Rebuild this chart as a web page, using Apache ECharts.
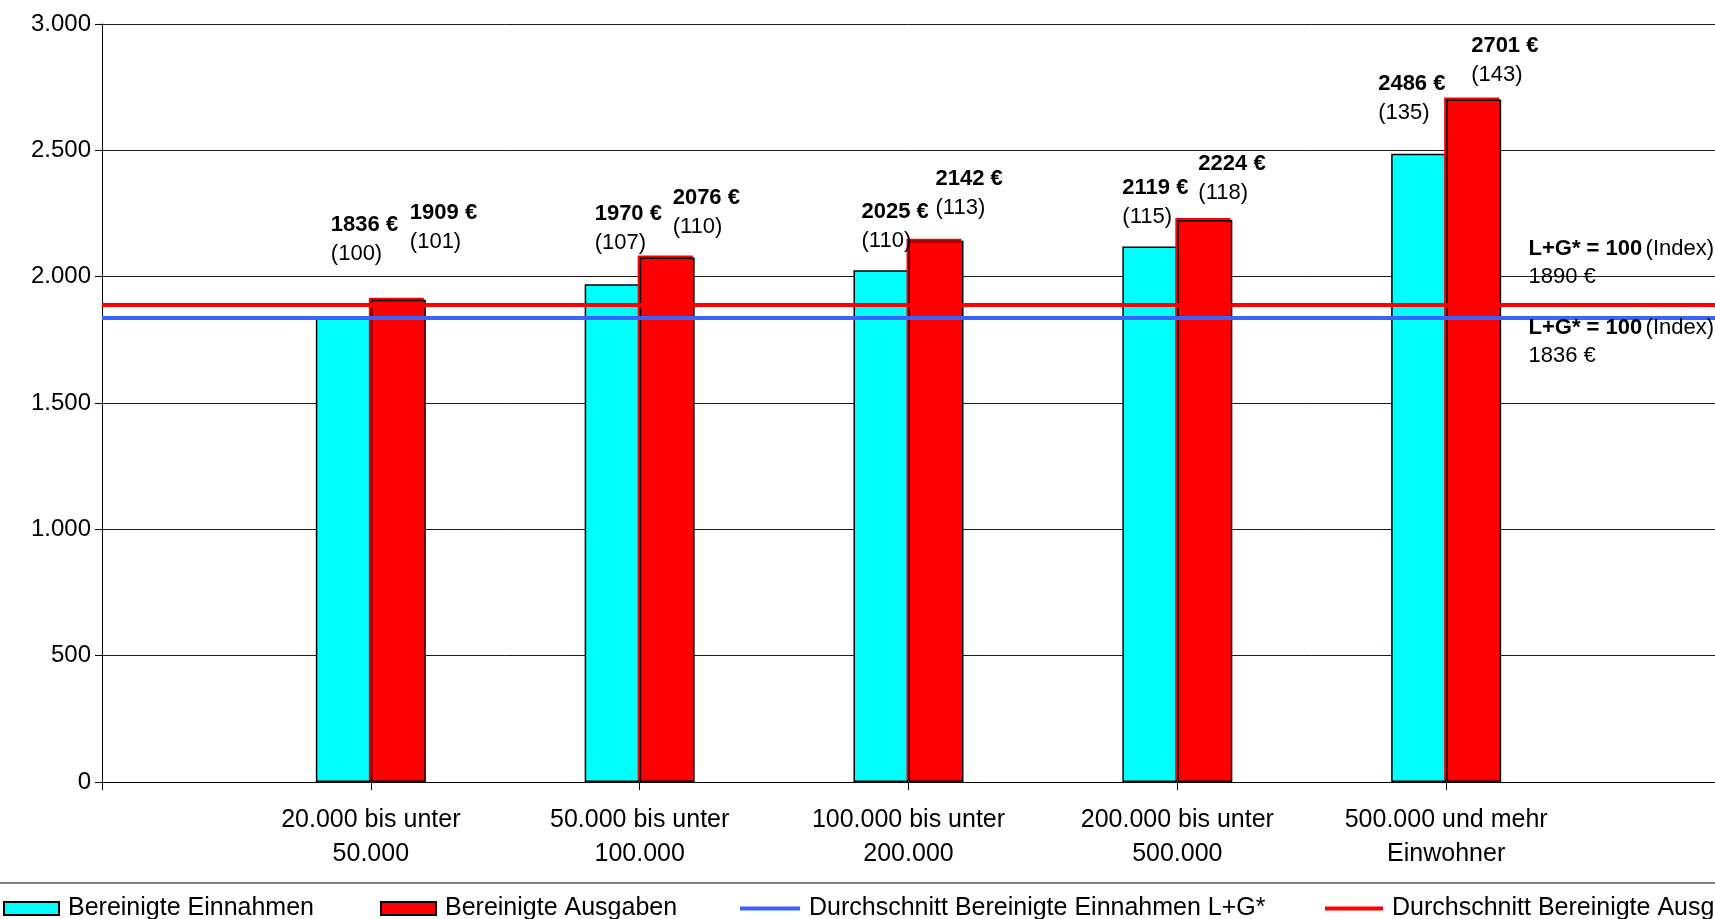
<!DOCTYPE html>
<html>
<head>
<meta charset="utf-8">
<script src="https://cdn.jsdelivr.net/npm/echarts@6/dist/echarts.min.js"></script>
<style>
  html, body { margin: 0; padding: 0; background: #ffffff; }
  #chart { width: 1715px; height: 919px; }
</style>
</head>
<body>
<div id="chart"></div>
<script>
// Größenklassen der Gemeinden
const categories = [
  '20.000 bis unter\n50.000',
  '50.000 bis unter\n100.000',
  '100.000 bis unter\n200.000',
  '200.000 bis unter\n500.000',
  '500.000 und mehr\nEinwohner'
];
// Euro je Einwohner
const einnahmen = [1836, 1970, 2025, 2119, 2486];
const ausgaben = [1909, 2076, 2142, 2224, 2701];
// Index (L+G* = 100)
const einnahmenIndex = [100, 107, 110, 115, 135];
const ausgabenIndex = [101, 110, 113, 118, 143];
// Durchschnitt L+G*
const avgEinnahmen = 1836;
const avgAusgaben = 1890;
// y-Achse
const yMin = 0, yMax = 3000, yStep = 500;

// Label placement relative to the top-left corner of each bar
const einnahmenLabelPos = [[15, -108], [10, -85], [8, -73], [0, -73], [-13, -84]];
const ausgabenLabelPos = [[39, -101], [33, -74], [27, -76], [21, -71], [25, -68]];

const FONT = '"Liberation Sans", Arial, Helvetica, sans-serif';
const fmtThousands = v => String(v).replace(/\B(?=(\d{3})+(?!\d))/g, '.');

// Empty end slots so the category ticks sit between the axis ends
const axisData = [''].concat(categories, ['']);
const pad = arr => [null].concat(arr, [null]);

const valueRich = {
  b: { fontFamily: FONT, fontSize: 22, fontWeight: 'bold', color: '#000', lineHeight: 29 },
  n: { fontFamily: FONT, fontSize: 22, color: '#000', lineHeight: 29 }
};

function barData(values, indices, positions) {
  return pad(values.map((v, i) => ({
    value: v,
    label: {
      show: true,
      position: positions[i],
      formatter: '{b|' + v + ' €}\n{n|(' + indices[i] + ')}',
      rich: valueRich
    }
  })));
}

function avgLabel(value, pos) {
  return {
    symbol: 'circle',
    symbolSize: 1,
    silent: true,
    itemStyle: { color: 'rgba(0,0,0,0)' },
    label: {
      show: true,
      position: pos,
      formatter: '{b|L+G* = 100} {n|(Index)}\n{n|' + value + ' €}',
      rich: {
        b: { fontFamily: FONT, fontSize: 22, fontWeight: 'bold', color: '#000', lineHeight: 28 },
        n: { fontFamily: FONT, fontSize: 22, color: '#000', lineHeight: 28 }
      }
    },
    data: [{ coord: [axisData.length - 1, value] }]
  };
}

const legendText = { fontFamily: FONT, fontSize: 25, color: '#000', padding: [0, 0, 0, 4] };

const chart = echarts.init(document.getElementById('chart'), null, { renderer: 'canvas' });

chart.setOption({
  backgroundColor: '#ffffff',
  animation: false,
  grid: { left: 102, right: 0, top: 24, bottom: 137, containLabel: false, outerBoundsMode: 'none' },
  xAxis: {
    type: 'category',
    data: axisData,
    boundaryGap: false,
    axisLine: { show: true, lineStyle: { color: '#000', width: 1 } },
    axisTick: { show: true, length: 8, interval: 0, lineStyle: { color: '#000', width: 1 } },
    axisLabel: {
      interval: 0,
      margin: 21,
      fontFamily: FONT,
      fontSize: 25,
      lineHeight: 34,
      color: '#000'
    },
    splitLine: { show: false }
  },
  yAxis: {
    type: 'value',
    min: yMin,
    max: yMax,
    interval: yStep,
    axisLine: { show: true, lineStyle: { color: '#000', width: 1 } },
    axisTick: { show: true, length: 7, lineStyle: { color: '#000', width: 1 } },
    axisLabel: {
      margin: 11,
      fontFamily: FONT,
      fontSize: 24,
      color: '#000',
      formatter: v => fmtThousands(v)
    },
    splitLine: { show: true, lineStyle: { color: '#1a1a1a', width: 1 } }
  },
  legend: [
    {
      data: ['Bereinigte Einnahmen'],
      left: 3, top: 896, padding: 0, selectedMode: false,
      icon: 'rect', itemWidth: 55, itemHeight: 13,
      itemStyle: { color: '#00ffff', borderColor: '#000', borderWidth: 2 },
      textStyle: legendText
    },
    {
      data: ['Bereinigte Ausgaben'],
      left: 380, top: 896, padding: 0, selectedMode: false,
      icon: 'rect', itemWidth: 55, itemHeight: 13,
      itemStyle: { color: '#ff0000', borderColor: '#000', borderWidth: 2 },
      textStyle: legendText
    },
    {
      data: ['Durchschnitt Bereinigte Einnahmen L+G*'],
      left: 740, top: 896, padding: 0, selectedMode: false,
      icon: 'rect', itemWidth: 60, itemHeight: 4,
      itemStyle: { color: '#3a62ff', borderWidth: 0 },
      textStyle: legendText
    },
    {
      data: ['Durchschnitt Bereinigte Ausgaben L+G*'],
      left: 1325, top: 896, padding: 0, selectedMode: false,
      icon: 'rect', itemWidth: 58, itemHeight: 4,
      itemStyle: { color: '#ff0000', borderWidth: 0 },
      textStyle: legendText
    }
  ],
  graphic: [
    {
      type: 'line',
      silent: true,
      shape: { x1: 0, y1: 883, x2: 1715, y2: 883 },
      style: { stroke: '#555555', lineWidth: 1.5 }
    }
  ],
  series: [
    {
      name: 'Bereinigte Einnahmen',
      type: 'bar',
      barWidth: 55,
      barGap: '0%',
      data: barData(einnahmen, einnahmenIndex, einnahmenLabelPos),
      itemStyle: { color: '#00ffff', borderColor: '#000', borderWidth: 1.5 }
    },
    {
      name: 'Bereinigte Ausgaben',
      type: 'bar',
      barWidth: 55,
      barGap: '0%',
      data: barData(ausgaben, ausgabenIndex, ausgabenLabelPos),
      itemStyle: {
        color: '#ff0000', borderColor: '#000', borderWidth: 1.5,
        shadowColor: '#ff0000', shadowOffsetX: -2, shadowOffsetY: -2, shadowBlur: 0
      }
    },
    {
      name: 'Durchschnitt Bereinigte Einnahmen L+G*',
      type: 'line',
      data: pad(categories.map(() => null)),
      itemStyle: { color: '#3a62ff' },
      lineStyle: { color: '#3a62ff', width: 4 },
      showSymbol: false,
      markLine: {
        silent: true,
        symbol: ['none', 'none'],
        label: { show: false },
        lineStyle: { color: '#3a62ff', width: 4, type: 'solid' },
        data: [{ yAxis: avgEinnahmen }]
      },
      markPoint: avgLabel(avgEinnahmen, [-186, -4])
    },
    {
      name: 'Durchschnitt Bereinigte Ausgaben L+G*',
      type: 'line',
      data: pad(categories.map(() => null)),
      itemStyle: { color: '#ff0000' },
      lineStyle: { color: '#ff0000', width: 4 },
      showSymbol: false,
      markLine: {
        silent: true,
        symbol: ['none', 'none'],
        label: { show: false },
        lineStyle: { color: '#ff0000', width: 4, type: 'solid' },
        data: [{ yAxis: avgAusgaben }]
      },
      markPoint: avgLabel(avgAusgaben, [-186, -69])
    }
  ]
});
</script>
</body>
</html>
